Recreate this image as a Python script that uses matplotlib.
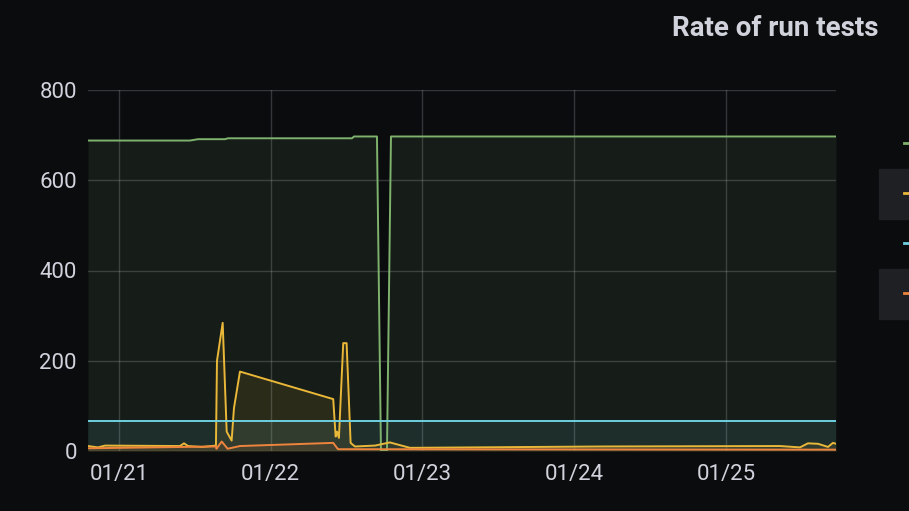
import numpy as np
import pandas as pd
import matplotlib.pyplot as plt
import matplotlib.dates as mdates
from matplotlib.patches import Rectangle
from matplotlib.lines import Line2D

plt.rcParams['font.family'] = ['Roboto', 'DejaVu Sans']

# series (timestamps, rate values)
green_t = ['01-20 19:06', '01-21 11:14', '01-21 12:30', '01-21 16:46', '01-21 17:14',
           '01-22 12:51', '01-22 13:10', '01-22 16:48', '01-22 17:26', '01-22 18:23',
           '01-22 19:01', '01-25 17:24']
green_v = [688, 688, 691, 691, 693, 693, 697, 697, 0, 0, 697, 697]

yellow_t = ['01-20 19:06', '01-20 20:41', '01-20 21:47', '01-21 09:39', '01-21 10:17',
            '01-21 10:55', '01-21 13:08', '01-21 15:20', '01-21 15:30', '01-21 16:24',
            '01-21 17:02', '01-21 17:49', '01-21 18:11', '01-21 19:08', '01-22 09:53',
            '01-22 10:16', '01-22 10:29', '01-22 10:47', '01-22 11:28', '01-22 12:00',
            '01-22 12:38', '01-22 13:19', '01-22 16:29', '01-22 18:51', '01-22 22:01',
            '01-24 04:04', '01-25 08:32', '01-25 11:42', '01-25 12:58', '01-25 14:33',
            '01-25 16:08', '01-25 16:55', '01-25 17:24']
yellow_v = [11, 8, 12, 11, 17, 11, 9, 12, 200, 284, 43, 23, 95, 176, 115,
            32, 43, 29, 239, 239, 18, 10, 12, 19, 7, 10, 11, 8, 17, 16, 9, 18, 16]

cyan_t = ['01-20 19:06', '01-25 17:24']
cyan_v = [67, 67]

orange_t = ['01-20 19:06', '01-21 15:20', '01-21 15:25', '01-21 16:15', '01-21 17:11',
            '01-21 19:08', '01-22 09:53', '01-22 10:38', '01-25 17:24']
orange_v = [6, 10, 5, 21, 5, 11, 18, 4, 3]

series = [
    (green_t, green_v, '#7EB26D'),
    (yellow_t, yellow_v, '#EAB839'),
    (cyan_t, cyan_v, '#6ED0E0'),
    (orange_t, orange_v, '#EF843C'),
]

bg = '#0b0c0e'
txt = '#d0d3dc'

fig = plt.figure(figsize=(9.09, 5.11), dpi=100, facecolor=bg)
ax = fig.add_axes([88 / 909, (511 - 451) / 511, (836 - 88) / 909, (451 - 90) / 511])
ax.set_facecolor(bg)

def to_dt(ts):
    return pd.to_datetime(['2024-' + t for t in ts])

for t, v, c in series:
    x = to_dt(t)
    ax.fill_between(x, v, 0, color=c, alpha=0.1, linewidth=0)
    ax.plot(x, v, color=c, linewidth=1.4)

ax.set_xlim(pd.Timestamp('2024-01-20 19:06'), pd.Timestamp('2024-01-25 17:24'))
ax.set_ylim(0, 800)
ax.set_yticks([0, 200, 400, 600, 800])
ax.xaxis.set_major_locator(mdates.DayLocator())
ax.xaxis.set_major_formatter(mdates.DateFormatter('%m/%d'))

for s in ax.spines.values():
    s.set_visible(False)
ax.grid(True, color='#ccccdc', alpha=0.22, linewidth=1)
ax.set_axisbelow(True)
ax.tick_params(length=0, colors=txt, labelsize=16)
ax.tick_params(axis='y', pad=8)
ax.tick_params(axis='x', pad=9)

fig.text(878 / 909, 1 - 28 / 511, 'Rate of run tests', color=txt, fontsize=20,
         fontweight='bold', ha='right', va='center')

# legend strip, cut off at the right edge
for top in (169, 269):
    fig.add_artist(Rectangle((879 / 909, (511 - top - 50) / 511), 40 / 909, 50 / 511,
                             transform=fig.transFigure, color='#1f2024', zorder=0))
for y, (_, _, c) in zip((143, 193, 243, 293), series):
    fig.add_artist(Line2D([904 / 909, 1.0], [1 - y / 511] * 2, color=c, linewidth=2,
                          transform=fig.transFigure))

plt.savefig('out.png', dpi=100, facecolor=bg)
